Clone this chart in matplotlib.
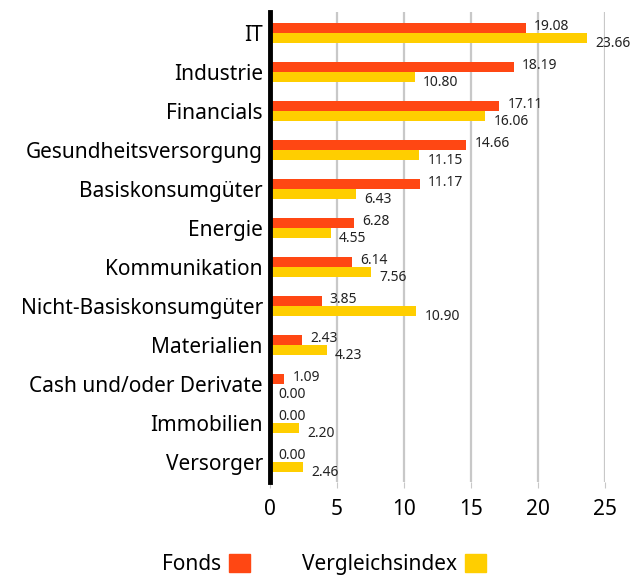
import matplotlib.pyplot as plt
import numpy as np
from matplotlib.patches import Patch

categories = ["IT", "Industrie", "Financials", "Gesundheitsversorgung",
              "Basiskonsumgüter", "Energie", "Kommunikation",
              "Nicht-Basiskonsumgüter", "Materialien", "Cash und/oder Derivate",
              "Immobilien", "Versorger"]
fonds = [19.08, 18.19, 17.11, 14.66, 11.17, 6.28, 6.14, 3.85, 2.43, 1.09, 0.00, 0.00]
index = [23.66, 10.80, 16.06, 11.15, 6.43, 4.55, 7.56, 10.90, 4.23, 0.00, 2.20, 2.46]
x_ticks = [0, 5, 10, 15, 20, 25]

c_fonds = "#FF4713"
c_index = "#FFCE00"

plt.rcParams["font.family"] = ["Noto Sans", "DejaVu Sans"]

fig = plt.figure(figsize=(6.35, 5.79), dpi=100)
ax = fig.add_axes([0.425, 0.167, 0.528, 0.812])

y = np.arange(len(categories))
h = 0.25
ax.barh(y - h / 2, fonds, height=h, color=c_fonds, zorder=3)
ax.barh(y + h / 2, index, height=h, color=c_index, zorder=3)

for yi, v in zip(y, fonds):
    ax.annotate(f"{v:.2f}", (v, yi - h / 2), xytext=(6, 1), textcoords="offset points",
                va="center", ha="left", fontsize=10, color="#222222")
for yi, v in zip(y, index):
    ax.annotate(f"{v:.2f}", (v, yi + h / 2), xytext=(6, -4), textcoords="offset points",
                va="center", ha="left", fontsize=10, color="#222222")

ax.set_xlim(0, 25)
ax.set_ylim(len(categories) - 0.48, -0.54)
ax.set_xticks(x_ticks)
ax.set_yticks(y)
ax.set_yticklabels(categories, fontsize=15)
ax.tick_params(axis="x", labelsize=15, length=4, color="#c8c8c8", pad=8)
ax.tick_params(axis="y", length=0, pad=5)
ax.grid(axis="x", color="#c8c8c8", linewidth=1.6, zorder=0)
for s in ["top", "right", "bottom"]:
    ax.spines[s].set_visible(False)
ax.spines["left"].set_linewidth(3.5)
ax.spines["left"].set_color("black")
ax.spines["left"].set_zorder(5)

handles = [Patch(color=c_fonds, label="Fonds"), Patch(color=c_index, label="Vergleichsindex")]
fig.legend(handles=handles, loc="center", bbox_to_anchor=(0.51, 0.025), ncol=2,
           frameon=False, markerfirst=False, fontsize=15, handlelength=1.0,
           handleheight=1.0, columnspacing=2.5, handletextpad=0.4)

fig.savefig("out.png", dpi=100)
